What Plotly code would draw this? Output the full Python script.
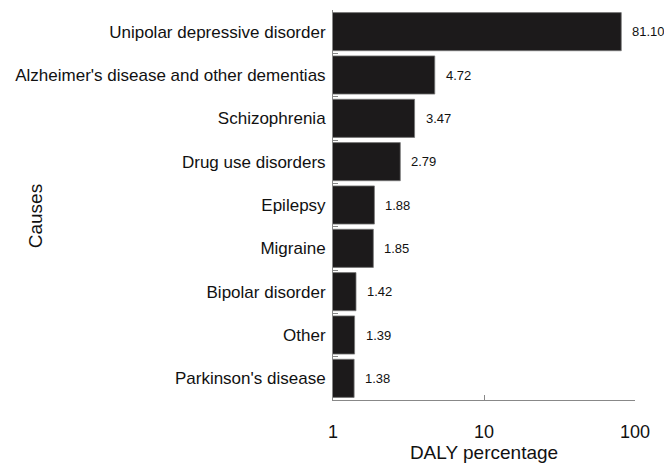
import math
import plotly.graph_objects as go

causes = [
    "Unipolar depressive disorder",
    "Alzheimer's disease and other dementias",
    "Schizophrenia",
    "Drug use disorders",
    "Epilepsy",
    "Migraine",
    "Bipolar disorder",
    "Other",
    "Parkinson's disease",
]
daly_pct = [81.10, 4.72, 3.47, 2.79, 1.88, 1.85, 1.42, 1.39, 1.38]
x_ticks = [1, 10, 100]
x_tick_labels = ["1", "10", "100"]

FONT = "Liberation Sans, Arial, Helvetica, sans-serif"

fig = go.Figure()
fig.add_trace(go.Bar(
    x=daly_pct,
    y=causes,
    orientation="h",
    width=0.88,
    marker=dict(color="#1c1a1b", line=dict(color="#777777", width=0.8)),
    hoverinfo="x+y",
))

# value labels just right of each bar (log axis -> annotation x in log10 units)
for c, v in zip(causes, daly_pct):
    fig.add_annotation(
        x=math.log10(v), y=c, xref="x", yref="y",
        text=f"{v:.2f}", showarrow=False,
        xanchor="left", xshift=9,
        font=dict(family=FONT, size=13, color="#111111"),
    )

fig.add_annotation(
    x=-0.985, y=0.47, xref="paper", yref="paper",
    text="Causes", textangle=-90, showarrow=False,
    xanchor="center", yanchor="middle",
    font=dict(family=FONT, size=19, color="#111111"),
)

fig.update_layout(
    width=664, height=468,
    margin=dict(l=333, r=29, t=10, b=61),
    paper_bgcolor="white", plot_bgcolor="white",
    showlegend=False,
    font=dict(family=FONT, color="#111111"),
    bargap=0.12,
)
fig.update_xaxes(
    type="log", range=[0, 2],
    tickvals=x_ticks, ticktext=x_tick_labels,
    ticks="inside", ticklen=5, tickcolor="#888888",
    showline=True, linecolor="#888888", linewidth=1,
    showgrid=False, zeroline=False,
    tickfont=dict(family=FONT, size=18),
    ticklabelstandoff=15,
    title=dict(text="DALY percentage", font=dict(family=FONT, size=19), standoff=3),
)
fig.update_yaxes(
    type="category", autorange="reversed",
    ticks="inside", ticklen=5, tickcolor="#888888", tickson="boundaries",
    showline=True, linecolor="#888888", linewidth=1,
    showgrid=False, zeroline=False,
    tickfont=dict(family=FONT, size=17),
    ticklabelstandoff=3,
)

fig.write_html("out.html")
